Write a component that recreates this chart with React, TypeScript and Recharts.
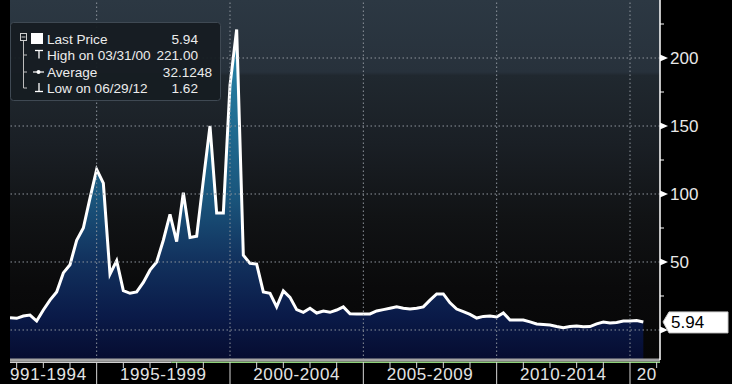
import React from 'react';
import { ComposedChart, Area, XAxis, YAxis, CartesianGrid, ReferenceLine } from 'recharts';

// Quarter-end dates (decimal years)
const quarterDates = [
  1991.75, 1992.0, 1992.25, 1992.5, 1992.75, 1993.0, 1993.25, 1993.5, 1993.75, 1994.0,
  1994.25, 1994.5, 1994.75, 1995.0, 1995.25, 1995.5, 1995.75, 1996.0, 1996.25, 1996.5,
  1996.75, 1997.0, 1997.25, 1997.5, 1997.75, 1998.0, 1998.25, 1998.5, 1998.75, 1999.0,
  1999.25, 1999.5, 1999.75, 2000.0, 2000.25, 2000.5, 2000.75, 2001.0, 2001.25, 2001.5,
  2001.75, 2002.0, 2002.25, 2002.5, 2002.75, 2003.0, 2003.25, 2003.5, 2003.75, 2004.0,
  2004.25, 2004.5, 2004.75, 2005.0, 2005.25, 2005.5, 2005.75, 2006.0, 2006.25, 2006.5,
  2006.75, 2007.0, 2007.25, 2007.5, 2007.75, 2008.0, 2008.25, 2008.5, 2008.75, 2009.0,
  2009.25, 2009.5, 2009.75, 2010.0, 2010.25, 2010.5, 2010.75, 2011.0, 2011.25, 2011.5,
  2011.75, 2012.0, 2012.25, 2012.5, 2012.75, 2013.0, 2013.25, 2013.5, 2013.75, 2014.0,
  2014.25, 2014.5, 2014.75, 2015.0, 2015.25, 2015.5,
];

// Last price per quarter
const lastPrices = [
  9, 8.6, 10.3, 11, 6.6, 14.7, 22, 28, 42, 48,
  66, 75, 97, 118, 108, 41, 51, 29, 27, 28,
  35, 44, 50, 66, 85, 65, 101, 68, 69, 110,
  150, 86, 86, 180, 221, 55, 49, 48.5, 28, 27,
  17, 28.7, 24, 15, 13, 16, 12.5, 14, 13, 14.7,
  17, 12, 11.8, 11.8, 11.8, 14, 15, 16, 17, 16,
  15.4, 16, 17, 22, 26.5, 26.5, 20, 15.4, 13.5, 11.5,
  8.8, 10, 10.3, 9.6, 12.5, 7.4, 7.4, 7.4, 6, 4.4,
  4, 3.7, 2.6, 1.62, 2.5, 2.9, 2.4, 2.5, 4.5, 5.9,
  5.1, 5.5, 6.6, 6.6, 7, 5.94,
];

const yearTicks = [
  1992, 1993, 1994, 1995, 1996, 1997, 1998, 1999, 2000, 2001, 2002, 2003, 2004,
  2005, 2006, 2007, 2008, 2009, 2010, 2011, 2012, 2013, 2014, 2015, 2016,
];
const periodLabels = ['1991-1994', '1995-1999', '2000-2004', '2005-2009', '2010-2014', '2015-2019'];
const periodLabelAt = [1993, 1997.5, 2002.5, 2007.5, 2012.5, 2015.25];
const gridYears = [1995, 2000, 2005, 2010, 2015];

const majorPriceTicks = [0, 50, 100, 150, 200];
const minorPriceTicks = [25, 75, 125, 175, 225];
const LAST_PRICE = 5.94;

const legendLabels = ['Last Price', 'High on 03/31/00', 'Average', 'Low on 06/29/12'];
const legendValues = ['5.94', '221.00', '32.1248', '1.62'];

const X_DOMAIN = [1991.75, 2016.125];
const Y_DOMAIN = [-22.06, 242.65];

const data = quarterDates.map((t, i) => ({ t, v: lastPrices[i] }));
const xTicks = Array.from(new Set([...yearTicks, ...periodLabelAt])).sort((a, b) => a - b);
const yTicks = [...majorPriceTicks, ...minorPriceTicks, LAST_PRICE];

const FONT = "'Liberation Sans', Arial, sans-serif";

const XTick = (props: any) => {
  const { x, y, payload } = props;
  const v = payload.value;
  const idx = periodLabelAt.indexOf(v);
  const isYear = Number.isInteger(v);
  const major = isYear && v % 5 === 0;
  return (
    <g>
      {isYear && (
        <line x1={x} x2={x} y1={y + 2} y2={major ? y + 24 : y + 8} stroke="#d8d8d8" strokeWidth={1} />
      )}
      {idx >= 0 && (
        <text
          x={x}
          y={y + 20}
          textAnchor={idx === periodLabelAt.length - 1 ? 'start' : 'middle'}
          fill="#e4e4e4"
          fontSize={17}
          fontFamily={FONT}
          letterSpacing={0.6}
          clipPath="url(#xLabelClip)"
        >
          {periodLabels[idx]}
        </text>
      )}
    </g>
  );
};

const YTick = (props: any) => {
  const { x, y, payload } = props;
  const v = payload.value;
  if (v === LAST_PRICE) {
    return (
      <g>
        <polygon
          points={`${x + 3},${y} ${x + 9},${y - 10} ${x + 68},${y - 10} ${x + 68},${y + 11} ${x + 9},${y + 11}`}
          fill="#ffffff"
          stroke="#c8c8c8"
          strokeWidth={1}
        />
        <text x={x + 11} y={y + 6.5} fill="#000" fontSize={17} fontFamily={FONT}>
          {LAST_PRICE.toFixed(2)}
        </text>
      </g>
    );
  }
  if (minorPriceTicks.includes(v)) {
    return <line x1={x} x2={x + 4} y1={y} y2={y} stroke="#ffffff" strokeWidth={1} />;
  }
  return (
    <g>
      <polygon points={`${x},${y - 3.5} ${x + 8},${y} ${x},${y + 3.5}`} fill="#ffffff" />
      {v !== 0 && (
        <text x={x + 10} y={y + 6} fill="#e8e8e8" fontSize={17} fontFamily={FONT}>
          {v}
        </text>
      )}
    </g>
  );
};

const Legend = () => {
  const baselines = [22, 38, 54.5, 71];
  return (
    <svg width={212} height={80} style={{ position: 'absolute', left: 10, top: 22 }}>
      <rect x={0.5} y={0.5} width={210} height={78} rx={3} fill="#161c22" fillOpacity={0.95} stroke="#3f4953" />
      {/* tree */}
      <rect x={10.5} y={11.5} width={6} height={7} fill="none" stroke="#cfcfcf" />
      <line x1={11.5} x2={15.5} y1={15} y2={15} stroke="#cfcfcf" />
      <line x1={13.5} x2={13.5} y1={19} y2={66} stroke="#bdbdbd" />
      <line x1={13.5} x2={17} y1={33} y2={33} stroke="#bdbdbd" />
      <line x1={13.5} x2={17} y1={50} y2={50} stroke="#bdbdbd" />
      <line x1={13.5} x2={17} y1={66} y2={66} stroke="#bdbdbd" />
      {/* icons */}
      <rect x={21} y={11} width={12} height={11} fill="#ffffff" />
      <line x1={25} x2={33} y1={28.5} y2={28.5} stroke="#fff" strokeWidth={1.3} />
      <line x1={29} x2={29} y1={28.5} y2={36.5} stroke="#fff" strokeWidth={1.3} />
      <line x1={23} x2={34} y1={50} y2={50} stroke="#fff" strokeWidth={1.2} />
      <circle cx={28.5} cy={50} r={2} fill="#fff" />
      <line x1={29} x2={29} y1={61} y2={69.5} stroke="#fff" strokeWidth={1.3} />
      <line x1={25} x2={33} y1={69.5} y2={69.5} stroke="#fff" strokeWidth={1.3} />
      {legendLabels.map((l, i) => (
        <text key={l} x={37} y={baselines[i]} fill="#ececec" fontSize={13.6} fontFamily={FONT}>
          {l}
        </text>
      ))}
      {legendValues.map((v, i) => (
        <text
          key={v}
          x={i === 2 ? 202 : 188}
          y={baselines[i]}
          fill="#ececec"
          fontSize={13.6}
          fontFamily={FONT}
          textAnchor="end"
        >
          {v}
        </text>
      ))}
    </svg>
  );
};

export default function App() {
  return (
    <div style={{ position: 'relative', width: 732, height: 384, background: '#000', overflow: 'hidden' }}>
      <style>{'body{margin:0;background:#000;}'}</style>
      <ComposedChart width={732} height={384} data={data} margin={{ top: 0, right: 0, bottom: 0, left: 10 }}>
        <defs>
          <linearGradient id="plotBg" x1="0" y1="0" x2="0" y2="1">
            <stop offset="0" stopColor="#2c3843" />
            <stop offset="0.2" stopColor="#27313b" />
            <stop offset="0.21" stopColor="#20282f" />
            <stop offset="0.4" stopColor="#1a1f25" />
            <stop offset="0.6" stopColor="#111315" />
            <stop offset="0.8" stopColor="#0a0a0b" />
            <stop offset="1" stopColor="#060606" />
          </linearGradient>
          <linearGradient id="areaFill" gradientUnits="userSpaceOnUse" x1="0" y1="0" x2="0" y2="360">
            <stop offset="0" stopColor="#2d93b6" />
            <stop offset="0.3" stopColor="#217196" />
            <stop offset="0.55" stopColor="#1a557c" />
            <stop offset="0.72" stopColor="#12325e" />
            <stop offset="0.88" stopColor="#0a1a48" />
            <stop offset="1" stopColor="#060c30" />
          </linearGradient>
          <clipPath id="xLabelClip">
            <rect x={10} y={356} width={647} height={30} />
          </clipPath>
        </defs>
        <CartesianGrid horizontal={false} vertical={false} fill="url(#plotBg)" stroke="none" />
        <XAxis
          dataKey="t"
          type="number"
          domain={X_DOMAIN}
          allowDataOverflow
          ticks={xTicks}
          interval={0}
          height={24}
          tickSize={0}
          tickMargin={0}
          tickLine={false}
          axisLine={{ stroke: '#a3a3a3', strokeWidth: 3 }}
          tick={XTick}
        />
        <YAxis
          orientation="right"
          type="number"
          domain={Y_DOMAIN}
          allowDataOverflow
          ticks={yTicks}
          interval={0}
          width={72}
          tickSize={0}
          tickMargin={0}
          tickLine={false}
          axisLine={{ stroke: '#ffffff', strokeWidth: 1.5 }}
          tick={YTick}
        />
        <Area
          type="linear"
          dataKey="v"
          stroke="#ffffff"
          strokeWidth={3}
          fill="url(#areaFill)"
          fillOpacity={1}
          baseValue="dataMin"
          dot={false}
          activeDot={false}
          isAnimationActive={false}
        />
        {majorPriceTicks.map((p) => (
          <ReferenceLine key={'h' + p} y={p} stroke="#8e959d" strokeDasharray="1.5 2.5" strokeWidth={1} />
        ))}
        {gridYears.map((yr) => (
          <ReferenceLine key={'v' + yr} x={yr} stroke="#8e959d" strokeDasharray="1.5 2.5" strokeWidth={1} />
        ))}
        <ReferenceLine
          segment={[{ x: 1997.8, y: Y_DOMAIN[0] }, { x: X_DOMAIN[1], y: Y_DOMAIN[0] }]}
          shape={(p: any) => (
            <line x1={p.x1} y1={p.y1 + 2.3} x2={p.x2} y2={p.y2 + 2.3} stroke="#8fd27a" strokeWidth={1.5} />
          )}
        />
        <ReferenceLine
          segment={[{ x: X_DOMAIN[0], y: Y_DOMAIN[0] }, { x: 1997.8, y: Y_DOMAIN[0] }]}
          shape={(p: any) => (
            <line x1={p.x1} y1={p.y1 + 2.3} x2={p.x2} y2={p.y2 + 2.3} stroke="#d0d0d0" strokeWidth={1.5} />
          )}
        />
      </ComposedChart>
      <Legend />
    </div>
  );
}
